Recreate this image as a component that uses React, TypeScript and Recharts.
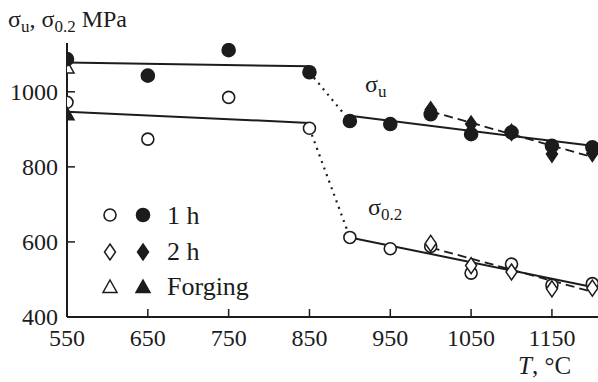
import React from 'react';
import { ComposedChart, XAxis, YAxis, Line, Scatter } from 'recharts';

// ---- data ----
const temps1h = [550, 650, 750, 850, 900, 950, 1000, 1050, 1100, 1150, 1200];
const sigmaU1h = [1087, 1043, 1111, 1052, 922, 914, 940, 887, 892, 856, 852];
const sigma02_1h = [972, 874, 985, 903, 612, 582, 588, 517, 541, 485, 489];

const temps2h = [1000, 1050, 1100, 1150, 1200];
const sigmaU2h = [952, 914, 892, 834, 836];
const sigma02_2h = [596, 537, 520, 475, 477];

const tempsForging = [550];
const sigmaUForging = [1065];
const sigma02Forging = [940];

// fit lines (x, y)
const fitULowX = [550, 850];
const fitULowY = [1078, 1068];
const fitUDropX = [850, 900];
const fitUDropY = [1052, 922];
const fitUHighX = [900, 1200];
const fitUHighY = [936, 856];
const fitU2hX = [1000, 1200];
const fitU2hY = [948, 826];

const fit02LowX = [550, 850];
const fit02LowY = [947, 917];
const fit02DropX = [850, 900];
const fit02DropY = [903, 612];
const fit02HighX = [900, 1200];
const fit02HighY = [612, 480];
const fit022hX = [1000, 1200];
const fit022hY = [585, 467];

const xTicks = [550, 650, 750, 850, 950, 1050, 1150];
const yTicks = [400, 600, 800, 1000];

const mk = (xs: number[], ys: number[]) => xs.map((x, i) => ({ x, y: ys[i] }));

const INK = '#1c1c1c';
const FONT = "'Liberation Serif', 'Times New Roman', Times, 'DejaVu Serif', serif";
const fontStyle = { fontFamily: FONT };

// ---- marker shapes ----
const Circle = ({ cx, cy, filled }: any) => (
  <circle cx={cx} cy={cy} r={filled ? 6.5 : 6} fill={filled ? INK : '#fff'} stroke={INK} strokeWidth={1.6} />
);
const Diamond = ({ cx, cy, filled }: any) => (
  <path
    d={`M${cx},${cy - 8} L${cx + 5.5},${cy} L${cx},${cy + 8} L${cx - 5.5},${cy} Z`}
    fill={filled ? INK : '#fff'}
    stroke={INK}
    strokeWidth={1.5}
    strokeLinejoin="miter"
  />
);
const Triangle = ({ cx, cy, filled }: any) => (
  <path
    d={`M${cx},${cy - 7} L${cx + 7},${cy + 5.5} L${cx - 7},${cy + 5.5} Z`}
    fill={filled ? INK : '#fff'}
    stroke={INK}
    strokeWidth={1.5}
  />
);

const XTick = (props: any) => {
  const { x, y, payload } = props;
  return (
    <g>
      <line x1={x} x2={x} y1={y} y2={y - 8} stroke={INK} strokeWidth={1.5} />
      <text x={x} y={y + 29} textAnchor="middle" fontSize={24} style={fontStyle} fill={INK}>
        {payload.value}
      </text>
    </g>
  );
};

const YTick = (props: any) => {
  const { x, y, payload } = props;
  return (
    <g>
      <line x1={x} x2={x + 8} y1={y} y2={y} stroke={INK} strokeWidth={1.5} />
      <text x={x - 9} y={y + 8} textAnchor="end" fontSize={24} style={fontStyle} fill={INK}>
        {payload.value}
      </text>
    </g>
  );
};

export default function App() {
  const lineProps = {
    dataKey: 'y',
    stroke: INK,
    dot: false,
    activeDot: false,
    isAnimationActive: false,
    type: 'linear' as const,
    legendType: 'none' as const,
  };
  return (
    <div style={{ position: 'absolute', left: 0, top: 0, width: 598, height: 382, background: '#fff', fontFamily: FONT }}>
      <ComposedChart width={598} height={382} margin={{ top: 43, right: 0, bottom: 0, left: 0 }}>
        <XAxis
          type="number"
          dataKey="x"
          domain={[550, 1207]}
          ticks={xTicks}
          interval={0}
          height={65}
          tickSize={0}
          tickMargin={0}
          tickLine={false}
          tick={<XTick />}
          axisLine={{ stroke: INK, strokeWidth: 2 }}
          allowDataOverflow
        />
        <YAxis
          type="number"
          dataKey="y"
          domain={[400, 1130]}
          ticks={yTicks}
          interval={0}
          width={67}
          tickSize={0}
          tickMargin={0}
          tickLine={false}
          tick={<YTick />}
          axisLine={{ stroke: INK, strokeWidth: 2 }}
          allowDataOverflow
        />

        <Line {...lineProps} data={mk(fitULowX, fitULowY)} strokeWidth={2} />
        <Line {...lineProps} data={mk(fitUDropX, fitUDropY)} strokeWidth={2.2} strokeDasharray="2 5" />
        <Line {...lineProps} data={mk(fitUHighX, fitUHighY)} strokeWidth={2} />
        <Line {...lineProps} data={mk(fitU2hX, fitU2hY)} strokeWidth={1.8} strokeDasharray="9 5" />

        <Line {...lineProps} data={mk(fit02LowX, fit02LowY)} strokeWidth={2} />
        <Line {...lineProps} data={mk(fit02DropX, fit02DropY)} strokeWidth={2.2} strokeDasharray="2 5" />
        <Line {...lineProps} data={mk(fit02HighX, fit02HighY)} strokeWidth={2} />
        <Line {...lineProps} data={mk(fit022hX, fit022hY)} strokeWidth={1.8} strokeDasharray="9 5" />

        <Scatter data={mk(temps1h, sigma02_1h)} dataKey="y" isAnimationActive={false} shape={(p: any) => <Circle cx={p.cx} cy={p.cy} filled={false} />} />
        <Scatter data={mk(temps2h, sigma02_2h)} dataKey="y" isAnimationActive={false} shape={(p: any) => <Diamond cx={p.cx} cy={p.cy} filled={false} />} />
        <Scatter data={mk(tempsForging, sigmaUForging)} dataKey="y" isAnimationActive={false} shape={(p: any) => <Triangle cx={p.cx} cy={p.cy} filled={false} />} />
        <Scatter data={mk(temps1h, sigmaU1h)} dataKey="y" isAnimationActive={false} shape={(p: any) => <Circle cx={p.cx} cy={p.cy} filled />} />
        <Scatter data={mk(temps2h, sigmaU2h)} dataKey="y" isAnimationActive={false} shape={(p: any) => <Diamond cx={p.cx} cy={p.cy} filled />} />
        <Scatter data={mk(tempsForging, sigma02Forging)} dataKey="y" isAnimationActive={false} shape={(p: any) => <Triangle cx={p.cx} cy={p.cy} filled />} />
      </ComposedChart>

      <svg width={598} height={382} style={{ position: 'absolute', left: 0, top: 0, pointerEvents: 'none' }}>
        <g style={fontStyle} fill={INK}>
          <text x={8} y={27} fontSize={24} style={fontStyle}>
            σ<tspan fontSize={17} dy={5}>u</tspan>
            <tspan dy={-5}>, σ</tspan>
            <tspan fontSize={17} dy={5}>0.2</tspan>
            <tspan dy={-5}> MPa</tspan>
          </text>
          <text x={365} y={92} fontSize={24} style={fontStyle}>
            σ<tspan fontSize={17} dy={5}>u</tspan>
          </text>
          <text x={368} y={215} fontSize={24} style={fontStyle}>
            σ<tspan fontSize={17} dy={5}>0.2</tspan>
          </text>
          <text x={518} y={374} fontSize={25} style={fontStyle}>
            <tspan fontStyle="italic">T</tspan>, °C
          </text>

          {/* legend */}
          <Circle cx={110} cy={215} filled={false} />
          <Circle cx={143} cy={215} filled />
          <text x={167} y={224} fontSize={26} style={fontStyle}>1 h</text>
          <Diamond cx={110} cy={252} filled={false} />
          <Diamond cx={143} cy={252} filled />
          <text x={167} y={260} fontSize={26} style={fontStyle}>2 h</text>
          <Triangle cx={110} cy={287} filled={false} />
          <Triangle cx={143} cy={287} filled />
          <text x={167} y={295} fontSize={26} style={fontStyle}>Forging</text>
        </g>
      </svg>
    </div>
  );
}
